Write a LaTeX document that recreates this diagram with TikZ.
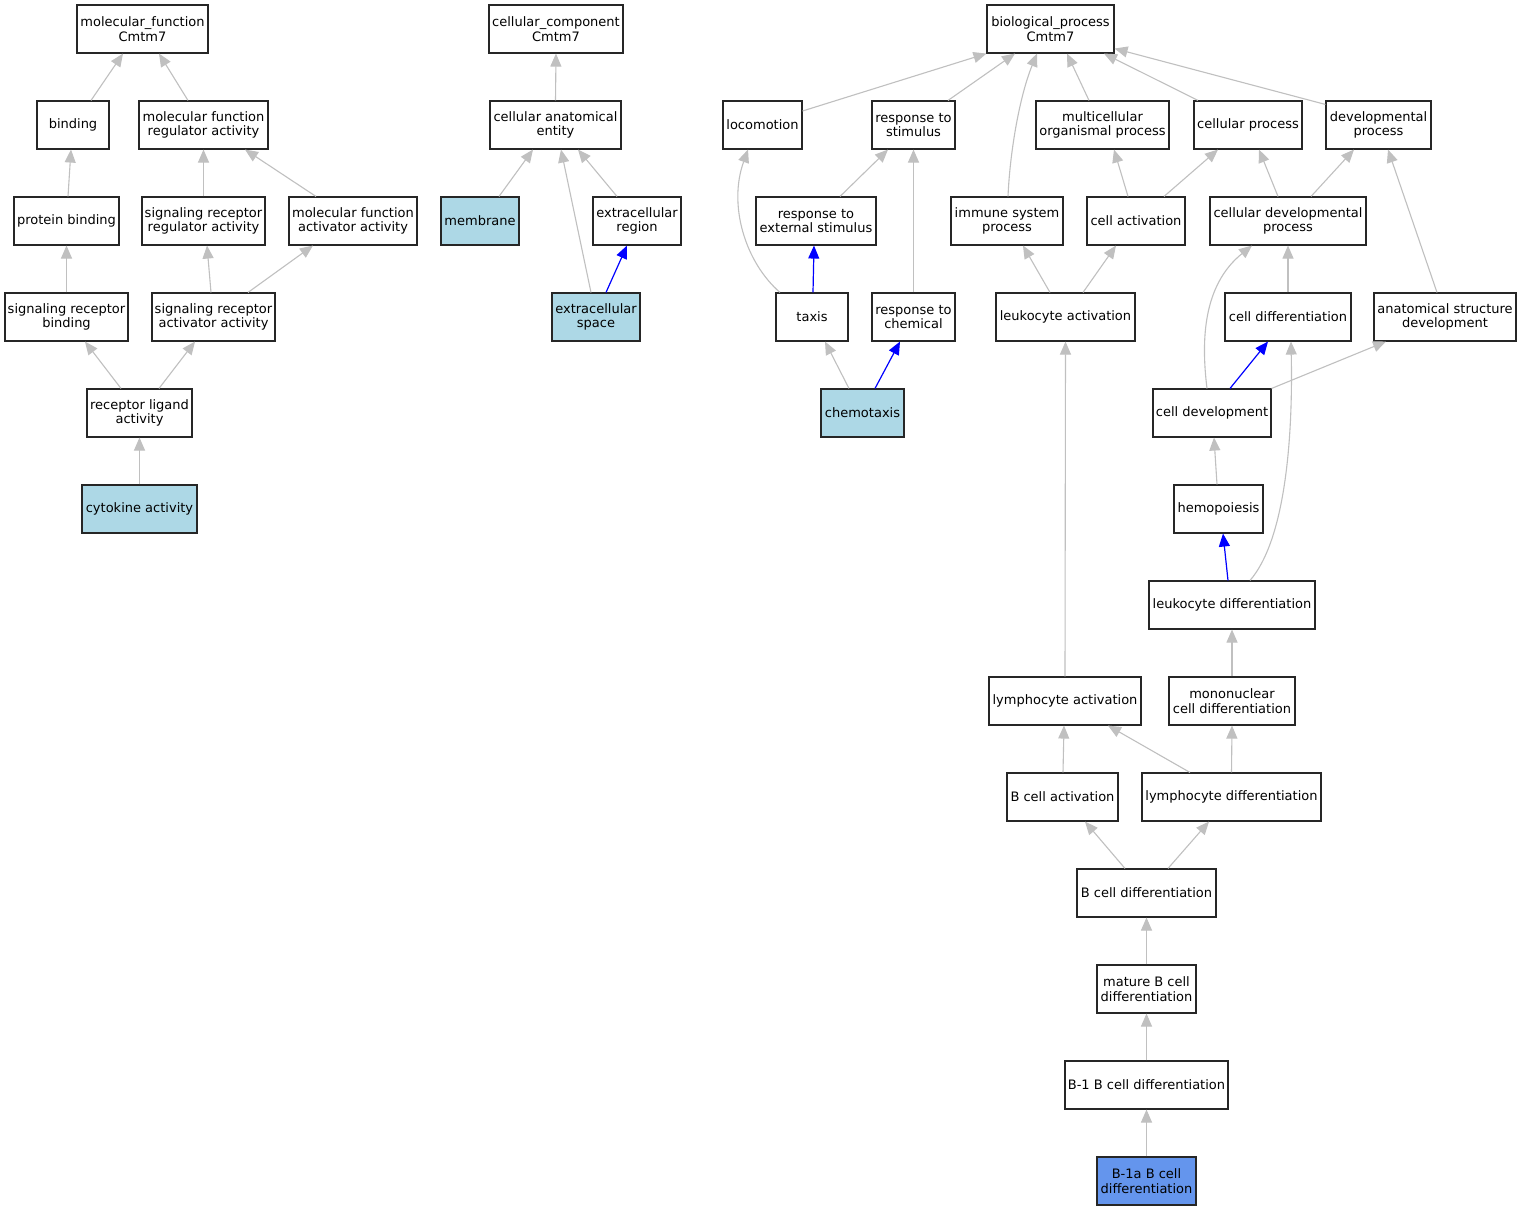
\documentclass[tikz,border=0pt]{standalone}
\usepackage{fontspec}
\setmainfont{DejaVu Sans}
\usetikzlibrary{arrows.meta,calc}
\definecolor{edgegray}{HTML}{C0C0C0}
\definecolor{lblue}{HTML}{ADD8E6}
\definecolor{cblue}{HTML}{6495ED}
\begin{document}
\begin{tikzpicture}[x=1pt,y=-1pt,
  box/.style={draw=black!85,line width=1.1pt,fill=white,minimum height=48pt,inner sep=0pt,align=center,
    font=\fontsize{13}{14.7}\selectfont},
  hit/.style={box,fill=lblue},
  leaf/.style={box,fill=cblue},
  e/.style={draw=edgegray,line width=1.1pt,-{Triangle[length=13pt,width=11pt]}},
  eb/.style={draw=blue,line width=1.2pt,-{Triangle[length=13pt,width=11pt]}}]
\fill[white] (0,0) rectangle (1521,1211);
\useasboundingbox (0,0) rectangle (1521,1211);
% molecular function
\node[box,minimum width=131pt] (mf) at (142.5,29) {molecular\_function\\Cmtm7};
\node[box,minimum width=72pt] (binding) at (73,125) {binding};
\node[box,minimum width=129pt] (mfr) at (203.5,125) {molecular function\\regulator activity};
\node[box,minimum width=105pt] (pb) at (66.5,221) {protein binding};
\node[box,minimum width=123pt] (srra) at (203.5,221) {signaling receptor\\regulator activity};
\node[box,minimum width=128pt] (mfa) at (353,221) {molecular function\\activator activity};
\node[box,minimum width=123pt] (srb) at (66.5,317) {signaling receptor\\binding};
\node[box,minimum width=123pt] (sraa) at (213.5,317) {signaling receptor\\activator activity};
\node[box,minimum width=105pt] (rl) at (139.5,413) {receptor ligand\\activity};
\node[hit,minimum width=115pt] (cyto) at (139.5,509) {cytokine activity};
% cellular component
\node[box,minimum width=134pt] (cc) at (556,29) {cellular\_component\\Cmtm7};
\node[box,minimum width=131pt] (cae) at (555.5,125) {cellular anatomical\\entity};
\node[hit,minimum width=78pt] (mem) at (480,221) {membrane};
\node[box,minimum width=88pt] (er) at (637,221) {extracellular\\region};
\node[hit,minimum width=88pt] (es) at (596,317) {extracellular\\space};
% biological process
\node[box,minimum width=127pt] (bp) at (1050.5,29) {biological\_process\\Cmtm7};
\node[box,minimum width=79pt] (loc) at (762.5,125) {locomotion};
\node[box,minimum width=83pt] (rs) at (913.5,125) {response to\\stimulus};
\node[box,minimum width=133pt] (mop) at (1102.5,125) {multicellular\\organismal process};
\node[box,minimum width=108pt] (cp) at (1248,125) {cellular process};
\node[box,minimum width=105pt] (dp) at (1378.5,125) {developmental\\process};
\node[box,minimum width=120pt] (res) at (816,221) {response to\\external stimulus};
\node[box,minimum width=112pt] (isp) at (1007,221) {immune system\\process};
\node[box,minimum width=98pt] (ca) at (1136,221) {cell activation};
\node[box,minimum width=156pt] (cdp) at (1288,221) {cellular developmental\\process};
\node[box,minimum width=72pt] (taxis) at (812,317) {taxis};
\node[box,minimum width=83pt] (rc) at (913.5,317) {response to\\chemical};
\node[box,minimum width=139pt] (la) at (1065.5,317) {leukocyte activation};
\node[box,minimum width=126pt] (cd) at (1288,317) {cell differentiation};
\node[box,minimum width=142pt] (asd) at (1445,317) {anatomical structure\\development};
\node[hit,minimum width=83pt] (chemo) at (862.5,413) {chemotaxis};
\node[box,minimum width=118pt] (cdev) at (1212,413) {cell development};
\node[box,minimum width=89pt] (hemo) at (1218.5,509) {hemopoiesis};
\node[box,minimum width=166pt] (ld) at (1232,605) {leukocyte differentiation};
\node[box,minimum width=152pt] (lya) at (1065,701) {lymphocyte activation};
\node[box,minimum width=126pt] (mono) at (1232,701) {mononuclear\\cell differentiation};
\node[box,minimum width=111pt] (bca) at (1062.5,797) {B cell activation};
\node[box,minimum width=179pt] (lyd) at (1231.5,797) {lymphocyte differentiation};
\node[box,minimum width=139pt] (bcd) at (1146.5,893) {B cell differentiation};
\node[box,minimum width=99pt] (mat) at (1146.5,989) {mature B cell\\differentiation};
\node[box,minimum width=163pt] (b1) at (1146.5,1085) {B-1 B cell differentiation};
\node[leaf,minimum width=99pt] (b1a) at (1146.5,1181) {B-1a B cell\\differentiation};
% edges: molecular function
\draw[e] ([xshift=18pt]binding.north) -- ([xshift=-19.5pt]mf.south);
\draw[e] ([xshift=-15.5pt]mfr.north) -- ([xshift=16.5pt]mf.south);
\draw[e] ([xshift=1.5pt]pb.north) -- ([xshift=-2pt]binding.south);
\draw[e] (srra.north) -- (mfr.south);
\draw[e] ([xshift=-37pt]mfa.north) -- ([xshift=41.5pt]mfr.south);
\draw[e] (srb.north) -- (pb.south);
\draw[e] ([xshift=-2.5pt]sraa.north) -- ([xshift=3.5pt]srra.south);
\draw[e] ([xshift=34.5pt]sraa.north) -- ([xshift=-40pt]mfa.south);
\draw[e] ([xshift=-18.5pt]rl.north) -- ([xshift=18.5pt]srb.south);
\draw[e] ([xshift=19.5pt]rl.north) -- ([xshift=-18.5pt]sraa.south);
\draw[e] (cyto.north) -- (rl.south);
% edges: cellular component
\draw[e] (cae.north) -- (cc.south);
\draw[e] ([xshift=19pt]mem.north) -- ([xshift=-22.5pt]cae.south);
\draw[e] ([xshift=-5pt]es.north) -- ([xshift=5.5pt]cae.south);
\draw[e] ([xshift=-20pt]er.north) -- ([xshift=22.5pt]cae.south);
\draw[eb] ([xshift=10pt]es.north) -- ([xshift=-10pt]er.south);
% edges: biological process
\draw[e] ([yshift=14pt]loc.east) -- (bp.south west);
\draw[e] ([xshift=-32pt]taxis.north) .. controls (745,262) and (728,205) .. ([xshift=-14.5pt]loc.south);
\draw[e] ([xshift=24pt]res.north) -- ([xshift=-25.5pt]rs.south);
\draw[eb] ([xshift=1pt]taxis.north) -- ([xshift=-2pt]res.south);
\draw[e] (rc.north) -- (rs.south);
\draw[e] ([xshift=-13.5pt]chemo.north) -- ([xshift=13pt]taxis.south);
\draw[eb] ([xshift=12.5pt]chemo.north) -- ([xshift=-13.5pt]rc.south);
\draw[e] ([xshift=34.5pt]rs.north) -- ([xshift=-35.5pt]bp.south);
\draw[e] ([xshift=1pt]isp.north) .. controls (1010,150) and (1020,95) .. ([xshift=-13.5pt]bp.south);
\draw[e] ([xshift=-13.5pt]mop.north) -- ([xshift=16.5pt]bp.south);
\draw[e] ([xshift=-50pt]cp.north) -- ([xshift=53.5pt]bp.south);
\draw[e] ([yshift=-4pt]dp.north west) -- ([yshift=5pt]bp.south east);
\draw[e] ([xshift=-8pt]ca.north) -- ([xshift=11.5pt]mop.south);
\draw[e] ([xshift=28pt]ca.north) -- ([xshift=-30pt]cp.south);
\draw[e] ([xshift=-10pt]cdp.north) -- ([xshift=11pt]cp.south);
\draw[e] ([xshift=23pt]cdp.north) -- ([xshift=-24.5pt]dp.south);
\draw[e] ([xshift=-8pt]asd.north) -- ([xshift=9.5pt]dp.south);
\draw[e] ([xshift=-15.5pt]la.north) -- ([xshift=16pt]isp.south);
\draw[e] ([xshift=17.5pt]la.north) -- ([xshift=-20pt]ca.south);
\draw[e] (cd.north) -- (cdp.south);
\draw[e] ([xshift=-5pt]cdev.north) .. controls (1201,340) and (1203,285) .. ([xshift=-36pt]cdp.south);
\draw[eb] ([xshift=18pt]cdev.north) -- ([xshift=-20pt]cd.south);
\draw[e] (cdev.north east) -- ([xshift=-59pt]asd.south);
\draw[e] ([xshift=18pt]ld.north) .. controls (1285,540) and (1293,440) .. ([xshift=3pt]cd.south);
\draw[e] ([xshift=-1.5pt]hemo.north) -- ([xshift=2pt]cdev.south);
\draw[eb] ([xshift=-4pt]ld.north) -- ([xshift=4.5pt]hemo.south);
\draw[e] (lya.north) -- (la.south);
\draw[e] (mono.north) -- (ld.south);
\draw[e] ([xshift=0.5pt]bca.north) -- ([xshift=-1pt]lya.south);
\draw[e] ([xshift=-41.5pt]lyd.north) -- ([xshift=43pt]lya.south);
\draw[e] (lyd.north) -- (mono.south);
\draw[e] ([xshift=-21.5pt]bcd.north) -- ([xshift=22.5pt]bca.south);
\draw[e] ([xshift=21.5pt]bcd.north) -- ([xshift=-22.5pt]lyd.south);
\draw[e] (mat.north) -- (bcd.south);
\draw[e] (b1.north) -- (mat.south);
\draw[e] (b1a.north) -- (b1.south);
\end{tikzpicture}
\end{document}
